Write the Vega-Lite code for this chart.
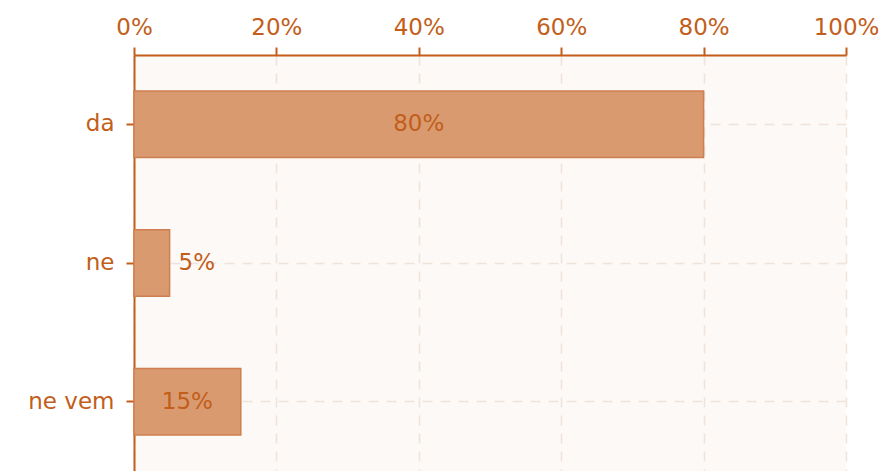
{
  "$schema": "https://vega.github.io/schema/vega-lite/v6.json",
  "autosize": "none",
  "width": 712,
  "height": 416,
  "padding": {"left": 134, "top": 55, "right": 39, "bottom": 0},
  "background": "white",
  "config": {
    "view": {"fill": "#fdf9f6", "stroke": null},
    "font": "DejaVu Sans"
  },
  "data": {
    "values": [
      {"odgovor": "da", "delez": 80},
      {"odgovor": "ne", "delez": 5},
      {"odgovor": "ne vem", "delez": 15}
    ]
  },
  "encoding": {
    "y": {
      "field": "odgovor", "type": "nominal", "sort": null,
      "scale": {"paddingInner": 0.52, "paddingOuter": 0.26},
      "axis": {
        "title": null, "orient": "left",
        "labelFontSize": 23, "labelColor": "#c25e1a", "labelPadding": 12,
        "tickSize": 8, "tickColor": "#c25e1a", "tickWidth": 2,
        "domainColor": "#c25e1a", "domainWidth": 2,
        "grid": true, "gridColor": "#efe3da", "gridDash": [10, 8], "gridWidth": 1.5,
        "bandPosition": 0.5
      }
    }
  },
  "layer": [
    {
      "mark": {"type": "bar", "fill": "#d99a70", "stroke": "#cf7f4f", "strokeWidth": 1.5},
      "encoding": {
        "x": {
          "field": "delez", "type": "quantitative",
          "scale": {"domain": [0, 100], "nice": false},
          "axis": {
            "orient": "top", "title": null, "values": [0, 20, 40, 60, 80, 100],
            "labelExpr": "datum.value + '%'", "labelFlush": false,
            "labelFontSize": 23, "labelColor": "#c25e1a", "labelPadding": 8,
            "tickSize": 8, "tickColor": "#c25e1a", "tickWidth": 2,
            "domainColor": "#c25e1a", "domainWidth": 2,
            "grid": true, "gridColor": "#efe3da", "gridDash": [10, 8], "gridWidth": 1.5
          }
        }
      }
    },
    {
      "transform": [
        {"filter": "datum.delez >= 10"},
        {"calculate": "datum.delez / 2", "as": "pos"},
        {"calculate": "datum.delez + '%'", "as": "lbl"}
      ],
      "mark": {"type": "text", "align": "center", "baseline": "middle", "fontSize": 23, "color": "#c25e1a"},
      "encoding": {
        "x": {"field": "pos", "type": "quantitative"},
        "text": {"field": "lbl"}
      }
    },
    {
      "transform": [
        {"filter": "datum.delez < 10"},
        {"calculate": "datum.delez + '%'", "as": "lbl"}
      ],
      "mark": {"type": "text", "align": "left", "baseline": "middle", "dx": 9, "fontSize": 23, "color": "#c25e1a"},
      "encoding": {
        "x": {"field": "delez", "type": "quantitative"},
        "text": {"field": "lbl"}
      }
    }
  ]
}
